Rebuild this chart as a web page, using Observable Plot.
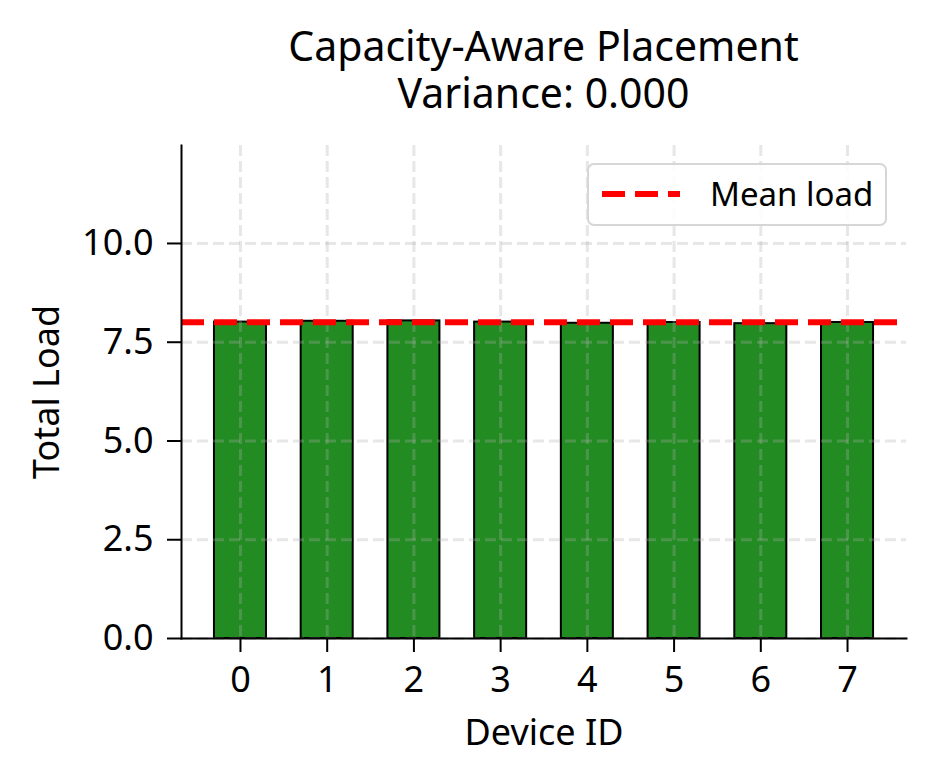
<!DOCTYPE html>
<html>
<head>
<meta charset="utf-8">
<script src="https://cdn.jsdelivr.net/npm/d3@7"></script>
<script src="https://cdn.jsdelivr.net/npm/@observablehq/plot@0.6"></script>
<style>
  body { margin: 0; background: #fff; font-family: "Noto Sans", sans-serif; }
  #wrap { position: relative; width: 934px; height: 784px; }
  #title { box-sizing: border-box; width: 934px; height: 116px; padding: 22px 28px 0 181px;
           text-align: center; font-size: 41px; line-height: 47px; color: #000; }
  #legend { position: absolute; left: 587px; top: 163px; width: 300px; height: 63px; box-sizing: border-box;
            border: 2px solid #d6d6d6; border-radius: 7px; background: rgba(255,255,255,0.85); }
  #legend svg { position: absolute; left: 13px; top: 0; }
  #legend span { position: absolute; left: 121px; top: 7px; font-size: 33px; line-height: 44px; color: #000; }
</style>
</head>
<body>
<div id="wrap">
  <div id="title">Capacity-Aware Placement<br>Variance: 0.000</div>
  <div id="chart"></div>
  <div id="legend">
    <svg width="80" height="60"><line x1="0" x2="78" y1="29" y2="29" stroke="red" stroke-width="6" stroke-dasharray="23,10"/></svg>
    <span>Mean load</span>
  </div>
</div>
<script>
const devices = [0, 1, 2, 3, 4, 5, 6, 7];
const loads = [8.01, 8.03, 8.04, 8.01, 7.98, 8.00, 7.97, 8.00];
const yTicks = [0, 2.5, 5, 7.5, 10];
const yMax = 12.48;
const xLabel = "Device ID";
const yLabel = "Total Load";

const data = devices.map((d, i) => ({device: d, load: loads[i]}));
const meanLoad = d3.mean(loads);

const gridStyle = {stroke: "#b0b0b0", strokeOpacity: 0.3, strokeWidth: 3, strokeDasharray: "11,5"};

const chart = Plot.plot({
  width: 934,
  height: 668,
  marginLeft: 181,
  marginRight: 28,
  marginTop: 29,
  marginBottom: 146,
  style: {fontFamily: "Noto Sans", fontSize: "36px", color: "#000", background: "transparent"},
  x: {type: "band", domain: devices, paddingInner: 0.4, paddingOuter: 0.38, align: 0.5, round: false},
  y: {domain: [0, yMax]},
  marks: [
    Plot.barY(data, {x: "device", y: "load", fill: "#228B22", stroke: "#000", strokeWidth: 2}),
    Plot.gridY(yTicks, gridStyle),
    Plot.gridX(devices, gridStyle),
    Plot.ruleY([meanLoad], {stroke: "red", strokeWidth: 6, strokeDasharray: "23,10"}),
    Plot.axisY(yTicks, {tickSize: 14, tickPadding: 14, strokeWidth: 2, tickFormat: d3.format(".1f"),
      label: yLabel, labelAnchor: "center", labelArrow: "none", labelOffset: 148}),
    Plot.axisX(devices, {tickSize: 14, tickPadding: 14, strokeWidth: 2,
      label: xLabel, labelAnchor: "center", labelArrow: "none", labelOffset: 106}),
    Plot.frame({anchor: "left", stroke: "#000", strokeWidth: 2}),
    Plot.frame({anchor: "bottom", stroke: "#000", strokeWidth: 2})
  ]
});
document.getElementById("chart").appendChild(chart);
</script>
</body>
</html>
